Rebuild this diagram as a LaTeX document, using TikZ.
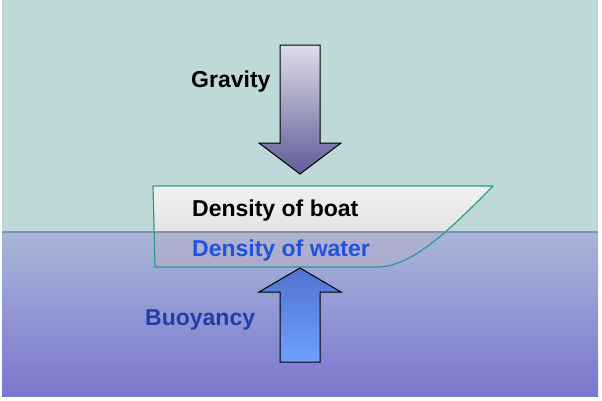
\documentclass[tikz,border=0pt]{standalone}
\usepackage{fontspec}
\setmainfont{Liberation Sans}
\begin{document}
\begin{tikzpicture}[x=1pt,y=-1pt,
  lbl/.style={font=\fontsize{23}{26}\selectfont\bfseries, inner sep=0pt, anchor=base west},
  arrowshape/.style={draw=black, line width=1pt, line join=miter}]
\definecolor{sky}{HTML}{BED9D8}
\definecolor{watertop}{HTML}{A9B6D9}
\definecolor{waterbot}{HTML}{7A76CF}
\definecolor{hull}{HTML}{2A9A90}
\definecolor{wline}{HTML}{8490BC}
\definecolor{blueA}{HTML}{1F52DE}
\definecolor{blueB}{HTML}{1E3FA8}
\useasboundingbox (0,0) rectangle (602,400);
\fill[white] (0,0) rectangle (602,400);
% sky and water
\fill[sky] (2,0) rectangle (598,232);
\shade[top color=watertop, bottom color=waterbot] (2,232) rectangle (598,396);
% boat fill
\begin{scope}
  \clip (0,0) rectangle (602,232);
  \shade[top color=white!88!gray, bottom color=white!72!gray]
    (153,186) -- (493,186) .. controls (445,235) and (410,267) .. (377,267) -- (155,267) -- cycle;
\end{scope}
\begin{scope}
  \clip (0,232) rectangle (602,400);
  \fill[fill={rgb,255:red,190;green,175;blue,195}, fill opacity=0.4]
    (153,186) -- (493,186) .. controls (445,235) and (410,267) .. (377,267) -- (155,267) -- cycle;
\end{scope}
% water line
\draw[wline, line width=1.6pt] (2,232) -- (598,232);
% boat outline
\draw[hull, line width=1.2pt, line join=round]
  (153,186) -- (493,186) .. controls (445,235) and (410,267) .. (377,267) -- (155,267) -- cycle;
% gravity arrow
\shade[arrowshape, top color={rgb,255:red,222;green,221;blue,233}, bottom color={rgb,255:red,95;green,91;blue,152}]
  (280,45) -- (320,45) -- (320,143) -- (341,143) -- (300,174) -- (259,143) -- (280,143) -- cycle;
% buoyancy arrow
\shade[arrowshape, top color={rgb,255:red,80;green,115;blue,208}, bottom color={rgb,255:red,112;green,160;blue,255}]
  (300,268) -- (341,292) -- (320,292) -- (320,362) -- (280,362) -- (280,292) -- (259,292) -- cycle;
% labels
\node[lbl, text=black] (grav) at (191,87) {Gravity};
\node[lbl, text=black] (dboat) at (192,216) {Density of boat};
\node[lbl, text=blueA] (dwater) at (192,256) {Density of water};
\node[lbl, text=blueB] (buoy) at (145,325) {Buoyancy};
\end{tikzpicture}
\end{document}
